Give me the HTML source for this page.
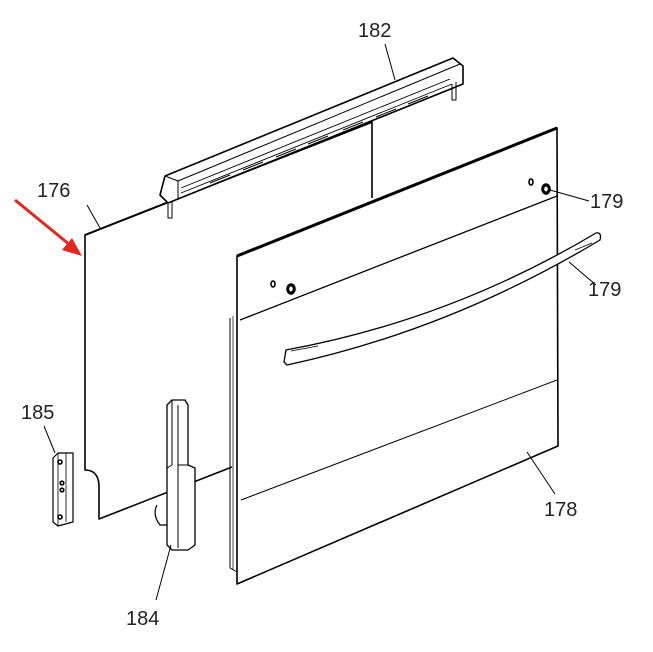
<!DOCTYPE html>
<html><head><style>
html,body{margin:0;padding:0;background:#fff;}
svg{display:block;}
text{font-family:"Liberation Sans",sans-serif;font-size:20px;fill:#222;}
</style></head><body>
<svg width="653" height="652" viewBox="0 0 653 652" xmlns="http://www.w3.org/2000/svg">
<g fill="none" stroke="#000" stroke-width="1.6" stroke-linejoin="round">
<path d="M372,198 L372,122 L85,235 L85,470 Q98,470 99,485 L99,519 L232,467" fill="#fff"/>
<path d="M372,122 L85,235" stroke-width="2"/>
<path d="M160,195 L165,176 L453,58 L463,66 L463,84 L168,203 Z" fill="#fff"/>
<path d="M165,176 L178,181 L460,64" stroke-width="1"/>
<path d="M178,181 L178,200" stroke-width="1"/>
<path d="M181,188 L450,79 M181,193 L452,84" stroke-width="0.9"/>
<g stroke-width="1">
<path d="M210,183 l20,-8 M243,170 l20,-8 M276,157 l20,-8 M308,144 l20,-8 M343,130 l20,-8 M376,117 l20,-8 M408,104 l20,-8"/>
</g>
<path d="M168,203 L168,218 L172,218 L172,201 M452,84 L452,100 L456,100 L456,82" stroke-width="1"/>
<path d="M230,318 L230,568 L237,572" stroke-width="1"/>
<path d="M233,316 L233,570" stroke-width="0.7"/>
<path d="M237,256 L557,128 L558,446 L237,584 Z" fill="#fff"/>
<path d="M237,256 L557,128" stroke-width="3"/>
<path d="M240,320 L557,196" stroke-width="1.3"/>
<path d="M241,500 L557,380" stroke-width="1"/>
<ellipse cx="291" cy="289" rx="4" ry="5" fill="#000"/>
<ellipse cx="291" cy="289" rx="1.8" ry="2.5" fill="#fff" stroke="none"/>
<ellipse cx="273" cy="284" rx="2" ry="3"/>
<ellipse cx="546" cy="189" rx="4" ry="5" fill="#000"/>
<ellipse cx="546" cy="189" rx="1.8" ry="2.5" fill="#fff" stroke="none"/>
<ellipse cx="531" cy="182" rx="2" ry="3"/>
<path d="M286,350 Q450,320 596,233 Q602,232 600,240 Q450,330 287,365 L284,362 Z" fill="#fff" stroke-width="1.3"/>
<path d="M291,351 L318,346 M575,250 L592,243" stroke-width="0.8"/>
<path d="M167,405 L172,400 L185,400 L188,405 L188,465 L195,468 L195,545 L188,550 L172,550 L167,545 Z" fill="#fff" stroke-width="1.3"/>
<path d="M172,400 L172,465 L167,468 M178,405 L178,465 M188,465 L178,465 M178,465 L178,548" stroke-width="1"/>
<path d="M157,505 Q152,515 160,525 L167,525" stroke-width="1.2"/>
<path d="M53,458 L58,453 L73,453 L73,522 L58,526 L53,522 Z" fill="#fff" stroke-width="1.2"/>
<path d="M58,453 L58,526 M66,453 L66,522" stroke-width="0.8"/>
<circle cx="60" cy="462" r="2"/><circle cx="62" cy="483" r="1.8"/><circle cx="62" cy="490" r="1.8"/><circle cx="60" cy="517" r="2"/>
<g stroke-width="1">
<path d="M385,44 L395,80"/>
<path d="M87,205 L100,228"/>
<path d="M589,201 L550,190"/>
<path d="M596,285 L569,262"/>
<path d="M44,426 L55,453"/>
<path d="M555,494 L527,452"/>
<path d="M156,600 L171,545"/>
</g>
</g>
<line x1="15" y1="200" x2="70" y2="245" stroke="#e5261f" stroke-width="3"/>
<polygon points="82,256 62,250 72,238" fill="#e5261f"/>
<text x="358" y="37">182</text>
<text x="37" y="197">176</text>
<text x="590" y="208">179</text>
<text x="588" y="296">179</text>
<text x="21" y="419">185</text>
<text x="544" y="516">178</text>
<text x="126" y="625">184</text>
</svg>
</body></html>
